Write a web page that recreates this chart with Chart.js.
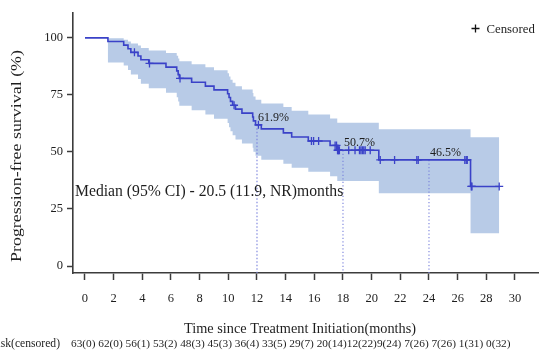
<!DOCTYPE html>
<html>
<head>
<meta charset="utf-8">
<title>Progression-free survival</title>
<script src="https://cdn.jsdelivr.net/npm/chart.js@4.4.1/dist/chart.umd.min.js"></script>
<style>
  html, body { margin: 0; padding: 0; background: #ffffff; }
  canvas { display: block; }
</style>
</head>
<body>
<canvas id="km" width="539" height="352"></canvas>
<script>
// Kaplan-Meier step points: month of each step and survival (%) from that month on
const eventMonths = [0, 1.6, 2.7, 3.0, 3.2, 3.7, 3.9, 4.45, 5.65, 6.4, 6.5, 6.58, 7.44, 8.4, 9.0, 9.95,
  10.05, 10.15, 10.3, 10.5, 10.95, 11.7, 11.75, 11.9, 12.3, 13.84, 14.42, 15.58, 17.1, 17.6, 20.5, 26.9, 28.9];
const survivalPct = [100, 98.41, 96.83, 95.24, 93.65, 92.04, 90.42, 88.81, 87.16, 85.52, 83.87, 82.23, 80.55, 78.87, 77.19, 75.52,
  73.84, 72.16, 70.48, 68.76, 67.04, 65.32, 63.61, 61.89, 60.12, 58.35, 56.58, 54.81, 52.86, 50.74, 46.51, 34.88, 34.88];
// 95% confidence band at the same steps
const lowerPct = [100, 89.26, 87.90, 85.96, 83.96, 81.92, 79.91, 77.94, 75.95, 74.00, 72.09, 70.20, 68.28, 66.39, 64.53, 62.68,
  60.87, 59.07, 57.28, 55.47, 53.67, 51.88, 50.12, 48.38, 46.58, 44.81, 43.05, 41.32, 39.35, 37.22, 31.88, 14.36, 14.36];
const upperPct = [100, 99.78, 99.20, 98.44, 97.57, 96.61, 95.58, 94.50, 93.37, 92.19, 90.98, 89.75, 88.46, 87.15, 85.82, 84.46,
  83.09, 81.70, 80.28, 78.82, 77.35, 75.86, 74.35, 72.83, 71.25, 69.66, 68.06, 66.44, 64.67, 62.77, 59.90, 56.47, 56.47];
// Censoring times (months)
const censorMonths = [3.45, 4.5, 6.63, 10.4, 12.1, 15.8, 15.95, 16.3, 17.45, 17.55, 17.62, 17.66, 17.7, 17.75,
  18.4, 18.84, 19.15, 19.25, 19.35, 19.45, 19.55, 19.9, 20.6, 21.6, 23.15, 23.25, 26.5, 26.6, 26.67, 26.95, 27.0, 28.9];
// Landmark months marked with dotted drop lines and survival labels
const landmarkMonths = [12, 18, 24];
// Axis ticks
const xTickValues = [0, 2, 4, 6, 8, 10, 12, 14, 16, 18, 20, 22, 24, 26, 28, 30];
const yTickValues = [0, 25, 50, 75, 100];
// Number at risk (cumulative censored) every two months
const atRisk = [63, 62, 56, 53, 48, 45, 36, 33, 29, 20, 12, 9, 7, 7, 1, 0];
const censoredCum = [0, 0, 1, 2, 3, 3, 4, 5, 7, 14, 22, 24, 26, 26, 31, 32];
const medianText = 'Median (95% CI) - 20.5 (11.9, NR)months';

const X_MIN = -0.837, X_MAX = 31.676;
const Y_MIN = -3.05, Y_MAX = 110.9;

const SERIF = '"Liberation Serif", "Times New Roman", serif';
const CURVE = '#3a42c8';
const BAND = '#b8cbe7';
const DOTS = '#7880dc';
const AXIS = '#3c3c3c';
const TEXT = '#1e1e1e';

function stepValue(t) {
  let v = survivalPct[0];
  for (let i = 0; i < eventMonths.length; i++) {
    if (eventMonths[i] <= t) v = survivalPct[i];
  }
  return v;
}

const toPoints = (xs, ys) => xs.map((x, i) => ({ x: x, y: ys[i] }));

const datasets = [
  { data: toPoints(eventMonths, upperPct), stepped: true, borderWidth: 0, pointRadius: 0,
    backgroundColor: BAND, fill: '+1', order: 5 },
  { data: toPoints(eventMonths, lowerPct), stepped: true, borderWidth: 0, pointRadius: 0,
    fill: false, order: 5 }
];
landmarkMonths.forEach(t => {
  datasets.push({ data: [{ x: t, y: stepValue(t) }, { x: t, y: Y_MIN }], borderColor: DOTS,
    borderWidth: 1.1, borderDash: [1.3, 2.2], pointRadius: 0, fill: false, order: 3 });
});
datasets.push({ data: toPoints(eventMonths, survivalPct), stepped: true, borderColor: CURVE,
  borderWidth: 1.6, pointRadius: 0, fill: false, order: 1 });
datasets.push({ data: censorMonths.map(t => ({ x: t, y: stepValue(t) })), showLine: false,
  pointStyle: 'cross', pointRadius: 4, pointBorderWidth: 1.3, pointBorderColor: CURVE,
  pointBackgroundColor: CURVE, order: 0 });

const textPlugin = {
  id: 'kmText',
  afterDatasetsDraw(chart) {
    const { ctx, scales: { x, y } } = chart;
    ctx.save();
    ctx.fillStyle = TEXT;
    ctx.textBaseline = 'alphabetic';
    ctx.textAlign = 'left';
    // Survival at each landmark
    ctx.font = '12px ' + SERIF;
    landmarkMonths.forEach(t => {
      const v = stepValue(t);
      ctx.fillText(v.toFixed(1) + '%', x.getPixelForValue(t) + 1, y.getPixelForValue(v) - 4);
    });
    // Median summary
    ctx.font = '15.7px ' + SERIF;
    ctx.fillText(medianText, 75, 196);
    ctx.restore();
  },
  afterDraw(chart) {
    const { ctx, scales: { x } } = chart;
    ctx.save();
    ctx.fillStyle = TEXT;
    ctx.textBaseline = 'alphabetic';

    // Y axis title, stretched along its length
    ctx.save();
    ctx.font = '15px ' + SERIF;
    const yTitle = 'Progression-free survival (%)';
    const w = ctx.measureText(yTitle).width;
    ctx.translate(21, 156);
    ctx.rotate(-Math.PI / 2);
    ctx.scale(212 / w, 1);
    ctx.textAlign = 'center';
    ctx.fillText(yTitle, 0, 0);
    ctx.restore();

    // X axis title
    ctx.font = '14.3px ' + SERIF;
    ctx.textAlign = 'center';
    ctx.fillText('Time since Treatment Initiation(months)', x.getPixelForValue(15), 333);

    // Number at risk row, fixed six-character fields
    ctx.font = '11.6px ' + SERIF;
    ctx.textAlign = 'right';
    ctx.fillText('Number at risk(censored)', 60, 347);
    ctx.font = '11.3px ' + SERIF;
    ctx.textAlign = 'left';
    const row = atRisk.map((n, i) => (n + '(' + censoredCum[i] + ')').padEnd(6, ' ')).join('');
    ctx.fillText(row, 71, 347);

    // Legend
    ctx.strokeStyle = '#111';
    ctx.lineWidth = 1.3;
    ctx.beginPath();
    ctx.moveTo(471.5, 28.5); ctx.lineTo(479.5, 28.5);
    ctx.moveTo(475.5, 24.5); ctx.lineTo(475.5, 32.5);
    ctx.stroke();
    ctx.font = '12.8px ' + SERIF;
    ctx.fillText('Censored', 486.5, 33);
    ctx.restore();
  }
};

new Chart(document.getElementById('km'), {
  type: 'line',
  data: { datasets: datasets },
  options: {
    responsive: false,
    devicePixelRatio: 1,
    animation: false,
    layout: { autoPadding: false, padding: { top: 13, left: 0, right: 0, bottom: 0 } },
    plugins: { legend: { display: false }, tooltip: { enabled: false } },
    scales: {
      x: {
        type: 'linear', min: X_MIN, max: X_MAX,
        afterBuildTicks: s => { s.ticks = xTickValues.map(v => ({ value: v })); },
        afterFit: s => { s.height = 79; s.paddingLeft = 0; s.paddingRight = 0; },
        grid: { drawOnChartArea: false, drawTicks: true, tickLength: 7, tickColor: AXIS, tickWidth: 1.5 },
        border: { display: true, color: AXIS, width: 1.6 },
        ticks: { font: { family: SERIF, size: 12.5 }, color: TEXT, padding: 11, maxRotation: 0, autoSkip: false }
      },
      y: {
        type: 'linear', min: Y_MIN, max: Y_MAX,
        afterBuildTicks: s => { s.ticks = yTickValues.map(v => ({ value: v })); },
        afterFit: s => { s.width = 73; s.paddingTop = 0; s.paddingBottom = 0; },
        grid: { drawOnChartArea: false, drawTicks: true, tickLength: 6, tickColor: AXIS, tickWidth: 1.5 },
        border: { display: true, color: AXIS, width: 1.6 },
        ticks: { font: { family: SERIF, size: 12.5 }, color: TEXT, padding: 4, autoSkip: false }
      }
    }
  },
  plugins: [textPlugin]
});
</script>
</body>
</html>
